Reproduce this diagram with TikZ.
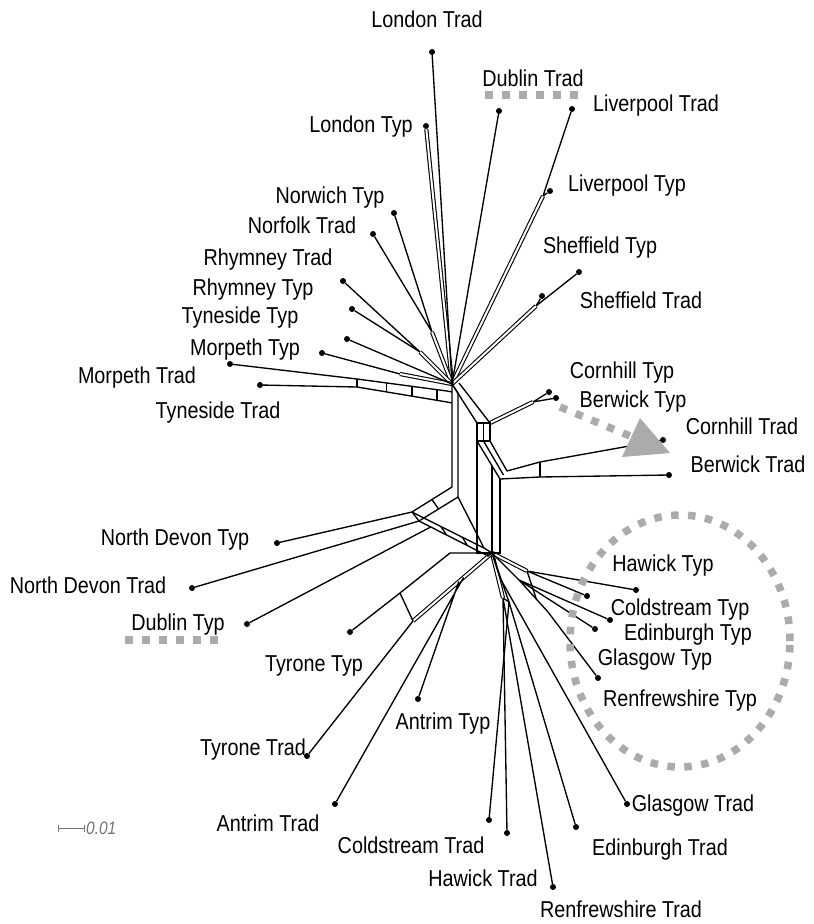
\documentclass[tikz,border=0pt]{standalone}
\usepackage{fontspec}
\setmainfont{Liberation Sans}[FakeStretch=0.86]
\usetikzlibrary{calc,positioning,arrows.meta}

\begin{document}
\begin{tikzpicture}[x=1pt,y=-1pt,
  edge/.style={line width=1.35pt},
  band/.style={line width=1.1pt,double=white,double distance=2pt},
  leaf/.style={circle,fill=black,inner sep=0pt,minimum size=6pt},
  lbl/.style={font=\fontsize{23}{26}\selectfont,inner sep=0pt,text height=16.5pt,text depth=0pt},
  hint/.style={black!33,line width=7.5pt,dash pattern=on 7.5pt off 9.5pt}]
  \useasboundingbox (0,0) rectangle (814,924);

  % taxa: name / dot / label / text
  \foreach \n/\p/\q/\t in {
    lontrad/{432,52}/{427,19}/London Trad, lontyp/{426,126}/{361,124}/London Typ,
    dubtrad/{499,111}/{533,78}/Dublin Trad, livtrad/{572,109}/{656,103}/Liverpool Trad,
    livtyp/{550,191}/{627,183}/Liverpool Typ, shetyp/{579,272}/{600,245}/Sheffield Typ,
    shetrad/{542,296}/{641,300}/Sheffield Trad, nortyp/{394,213}/{330,195}/Norwich Typ,
    nfktrad/{373,234}/{302,225}/Norfolk Trad, rhytrad/{343,281}/{268,257}/Rhymney Trad,
    rhytyp/{352,309}/{253,287}/Rhymney Typ, tyntyp/{347,339}/{240,315}/Tyneside Typ,
    mortyp/{322,353}/{245,347}/Morpeth Typ, mortrad/{230,364}/{137,375}/Morpeth Trad,
    tyntrad/{260,385}/{218,410}/Tyneside Trad, corntyp/{549,392}/{622,370}/Cornhill Typ,
    bertyp/{556,398}/{633,399}/Berwick Typ, corntrad/{663,440}/{742,426}/Cornhill Trad,
    bertrad/{669,475}/{748,464}/Berwick Trad, ndtyp/{277,543}/{175,537}/North Devon Typ,
    ndtrad/{192,588}/{88,585}/North Devon Trad, dubtyp/{247,624}/{178,622}/Dublin Typ,
    tyrtyp/{350,632}/{314,663}/Tyrone Typ, tyrtrad/{307,756}/{253,747}/Tyrone Trad,
    anttyp/{418,699}/{443,721}/Antrim Typ, anttrad/{335,804}/{268,823}/Antrim Trad,
    coltrad/{489,820}/{411,845}/Coldstream Trad, hawtrad/{507,833}/{483,878}/Hawick Trad,
    rentrad/{553,887}/{621,909}/Renfrewshire Trad, edntrad/{576,827}/{660,847}/Edinburgh Trad,
    glatrad/{627,804}/{693,803}/Glasgow Trad, hawtyp/{636,590}/{663,563}/Hawick Typ,
    coltyp/{587,596}/{680,607}/Coldstream Typ, edntyp/{610,620}/{688,632}/Edinburgh Typ,
    glatyp/{595,629}/{655,657}/Glasgow Typ, rentyp/{598,678}/{680,698}/Renfrewshire Typ}
  {
    \node[leaf] (\n) at (\p) {};
    \node[lbl] (\n-l) at (\q) {\t};
  }

  % split nodes
  \coordinate (hub) at (452,384);
  \coordinate (hubr) at (459,383);
  \coordinate (vla) at (458,393);
  \coordinate (vlu) at (452,392);
  \coordinate (vll) at (452,403);
  \coordinate (vlb) at (452,487);
  \coordinate (vlc) at (458,497);
  \coordinate (bxa) at (477,423);
  \coordinate (bxb) at (490,423);
  \coordinate (bxc) at (490,441);
  \coordinate (bxd) at (477,441);
  \coordinate (rba) at (500,479);
  \coordinate (rbb) at (507,471);
  \coordinate (rva) at (492,466);
  \coordinate (cta) at (540,462);
  \coordinate (bta) at (540,477);
  \coordinate (cbj) at (533,402);
  \coordinate (dh) at (492,553);
  \coordinate (dla) at (477,553);
  \coordinate (dlb) at (500,553);
  \coordinate (ca) at (412,512);
  \coordinate (cb) at (419,521);
  \coordinate (da) at (484,548);
  \coordinate (db) at (488,556);
  \coordinate (cc) at ($(cb)!0.17!(db)$);
  \coordinate (aa) at (413,621);
  \coordinate (ab) at ($(dh)!0.42!(aa)$);
  \coordinate (ac) at ($(dh)!0.36!(aa)$);
  \coordinate (ea) at (400,593);
  \coordinate (eb) at (450,553);
  \coordinate (sa) at (527,571);
  \coordinate (sb) at (519,580);
  \coordinate (sc) at (548,612);
  \coordinate (va) at (503,598);
  \coordinate (vb) at (509,602);
  \coordinate (vc) at (500,578);
  \coordinate (lvj) at (543,196);
  \coordinate (shj) at (536,306);
  \coordinate (nnj) at (432,332);
  \coordinate (rhj) at (420,352);
  \coordinate (mtj) at (400,374);
  \coordinate (ua) at (357,379);
  \coordinate (ub) at (447,391);
  \coordinate (la) at (357,387);
  \coordinate (lb) at (447,402);

  % parallel bands
  \draw[band] (lontyp) -- (hub);
  \draw[band] (lvj) -- (hub);
  \draw[band] (shj) -- (hub);
  \draw[band] (nnj) -- (hub);
  \draw[band] (rhj) -- (hub);
  \draw[band] (mtj) -- (hub);
  \draw[band] (cbj) -- (bxb);
  \draw[band] (dh) -- (sa);
  \draw[band] (dh) -- (va);
  \draw[band] (dh) -- (aa);

  % north group
  \draw[edge] (lontrad) -- (hub);
  \draw[edge] (dubtrad) -- (hub);
  \draw[edge] (livtrad) -- (lvj) (livtyp) -- (lvj);
  \draw[edge] (shetyp) -- (shj) (shetrad) -- (shj);
  \draw[edge] (nortyp) -- (nnj) (nfktrad) -- (nnj);
  \draw[edge] (rhytrad) -- (rhj) (rhytyp) -- (rhj);
  \draw[edge] (tyntyp) -- (hub) (mortyp) -- (mtj);
  \draw[edge] (mortrad) -- (ua) -- (ub) -- (vlu);
  \draw[edge] (tyntrad) -- (la) -- (lb) -- (vll);
  \foreach \f in {0,0.33,0.61,0.89}
    \draw[edge] ($(ua)!\f!(ub)$) -- ($(la)!\f!(lb)$);

  % central ring
  \draw[edge] (hub) -- (vlb) (vla) -- (vlc) (hub) -- (vla);
  \draw[edge] (hub) -- (bxa) (hubr) -- (bxb);
  \draw[edge] (bxa) -- (bxb) -- (bxc) -- (bxd) -- cycle;
  \draw[edge] ($(bxa)!0.5!(bxb)$) -- ($(bxd)!0.5!(bxc)$);
  \draw[edge] (bxd) -- (rba) (bxc) -- (rbb) ($(bxd)!0.5!(bxc)$) -- ($(rba)!0.5!(rbb)$);
  \draw[edge] (rbb) -- (cta) -- (corntrad);
  \draw[edge] (rba) -- (bta) -- (bertrad);
  \draw[edge] (cta) -- (bta);
  \draw[edge] (corntyp) -- (cbj) (bertyp) -- (cbj);
  \draw[edge] (bxd) -- (dla) -- (dh) (rva) -- (dh) (rba) -- (dlb) -- (dh);

  % south-west splits
  \draw[edge] (vlb) -- (ca) (vlc) -- (cb) (ca) -- (cb);
  \draw[edge] ($(vlb)!0.5!(ca)$) -- ($(vlc)!0.5!(cb)$);
  \draw[edge] (ca) -- (da) -- (dh) (cb) -- (db) -- (dh) (vlc) -- (da);
  \foreach \f in {0.4,0.7}
    \draw[edge] ($(ca)!\f!(da)$) -- ($(cb)!\f!(db)$);
  \draw[edge] (ndtyp) -- (ca) (ndtrad) -- (cb) (dubtyp) -- (cc);
  \draw[edge] (tyrtrad) -- (aa) (anttyp) -- (ab) (anttrad) -- (ac);
  \draw[edge] (tyrtyp) -- (ea) -- (eb) -- (dh) (ea) -- (aa);

  % scottish splits
  \draw[edge] (dh) -- (sb) (hawtyp) -- (sa) (coltyp) -- (sa);
  \draw[edge] (edntyp) -- (sb) (glatyp) -- (sb) (rentyp) -- (sc) -- (sb);
  \draw[edge] (sa) -- ($(sb)!0.6!(sc)$);
  \draw[edge] (dh) -- (vb) (hawtrad) -- (va) (rentrad) -- (va);
  \draw[edge] (coltrad) -- (vb) (edntrad) -- (vb) (va) -- (vb);
  \draw[edge] (glatrad) -- (vc) -- (dh);

  % grey highlights
  \coordinate (uda) at (485,95);
  \coordinate (udb) at (582,95);
  \draw[hint] (uda) -- (udb);
  \coordinate (uta) at (125,640);
  \coordinate (utb) at (222,640);
  \draw[hint] (uta) -- (utb);
  \coordinate (ella) at (680,641);
  \draw[hint] (ella) ellipse [x radius=110pt, y radius=126pt];
  \coordinate (arra) at (560,407);
  \coordinate (arrb) at (630,436);
  \coordinate (tria) at (640,418);
  \coordinate (trib) at (622,457);
  \coordinate (tric) at (670,453);
  \draw[hint] (arra) -- (arrb);
  \fill[black!33] (tria) -- (trib) -- (tric) -- cycle;

  % scale bar
  \coordinate (sba) at (58,828);
  \coordinate (sbb) at (85,828);
  \draw[black!55,line width=0.9pt,{Bar[width=7pt]}-{Bar[width=7pt]}] (sba) -- (sbb);
  \node[font=\fontsize{18}{20}\selectfont\itshape, text=black!55, anchor=west, inner sep=1pt] (sbl) at (sbb) {0.01};
\end{tikzpicture}
\end{document}
